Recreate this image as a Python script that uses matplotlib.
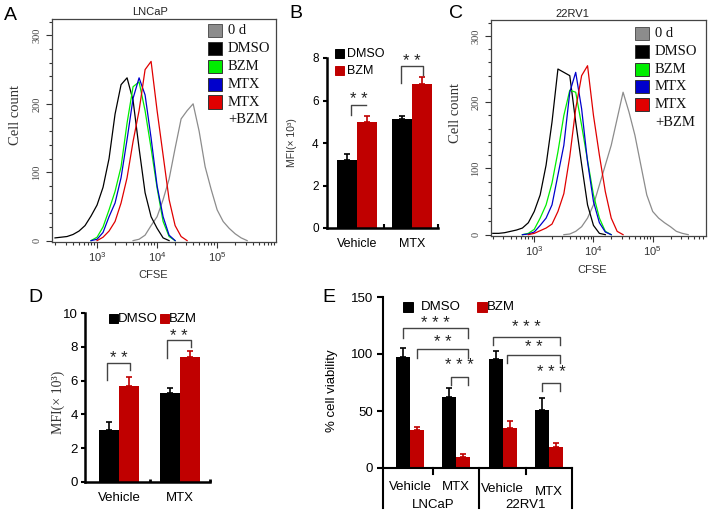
import numpy as np
import matplotlib.pyplot as plt
from matplotlib.patches import Rectangle
from matplotlib.ticker import MultipleLocator, LogLocator, NullFormatter

# ---- data ----
# flow cytometry histograms, counts at log10(CFSE) = 2.3 ... 5.9
log_cfse = np.array([2.3, 2.4, 2.5, 2.6, 2.7, 2.8, 2.9, 3.0, 3.1, 3.2, 3.3, 3.4, 3.5,
                     3.6, 3.7, 3.8, 3.9, 4.0, 4.1, 4.2, 4.3, 4.4, 4.5, 4.6, 4.7, 4.8,
                     4.9, 5.0, 5.1, 5.2, 5.3, 5.4, 5.5, 5.6, 5.7, 5.8, 5.9])

lncap_0d = [0, 0, 0, 0, 0, 0, 0, 0, 0, 0, 0, 0, 0, 0, 2, 8, 22, 35, 60, 90, 135, 178,
            190, 200, 160, 108, 75, 45, 28, 18, 10, 4, 0, 0, 0, 0, 0]
lncap_dmso = [4, 5, 6, 9, 14, 22, 36, 52, 78, 120, 185, 228, 238, 205, 135, 70, 35, 18,
              4, 0, 0, 0, 0, 0, 0, 0, 0, 0, 0, 0, 0, 0, 0, 0, 0, 0, 0]
lncap_bzm = [0, 0, 0, 0, 0, 0, 0, 5, 20, 45, 72, 108, 172, 225, 232, 190, 135, 77, 28,
             6, 0, 0, 0, 0, 0, 0, 0, 0, 0, 0, 0, 0, 0, 0, 0, 0, 0]
lncap_mtx = [0, 0, 0, 0, 0, 0, 0, 2, 12, 35, 55, 92, 148, 208, 238, 213, 150, 80, 35,
             8, 0, 0, 0, 0, 0, 0, 0, 0, 0, 0, 0, 0, 0, 0, 0, 0, 0]
lncap_mtx_bzm = [0, 0, 0, 0, 0, 0, 0, 0, 5, 14, 28, 55, 92, 145, 190, 250, 262, 190,
                 125, 60, 22, 6, 0, 0, 0, 0, 0, 0, 0, 0, 0, 0, 0, 0, 0, 0, 0]

rv1_0d = [0, 0, 0, 0, 0, 0, 0, 0, 0, 0, 0, 0, 0, 1, 5, 12, 25, 45, 75, 105, 135, 175,
          215, 185, 150, 105, 60, 35, 25, 18, 12, 5, 2, 0, 0, 0, 0]
rv1_dmso = [2, 2, 3, 5, 7, 10, 18, 35, 60, 105, 170, 250, 245, 240, 170, 106, 45, 14,
            2, 0, 0, 0, 0, 0, 0, 0, 0, 0, 0, 0, 0, 0, 0, 0, 0, 0, 0]
rv1_bzm = [0, 0, 0, 0, 0, 0, 2, 8, 25, 45, 78, 125, 180, 218, 215, 165, 112, 60, 25,
           5, 0, 0, 0, 0, 0, 0, 0, 0, 0, 0, 0, 0, 0, 0, 0, 0, 0]
rv1_mtx = [0, 0, 0, 0, 0, 0, 1, 4, 14, 25, 45, 90, 135, 215, 245, 190, 110, 50, 18,
           4, 0, 0, 0, 0, 0, 0, 0, 0, 0, 0, 0, 0, 0, 0, 0, 0, 0]
rv1_mtx_bzm = [0, 0, 0, 0, 0, 0, 0, 2, 6, 10, 16, 35, 62, 118, 190, 240, 255, 180,
               120, 65, 25, 5, 0, 0, 0, 0, 0, 0, 0, 0, 0, 0, 0, 0, 0, 0, 0]

hist_labels = ['0 d', 'DMSO', 'BZM', 'MTX', 'MTX', '+BZM']

# MFI bars
mfi_groups = ['Vehicle', 'MTX']
b_dmso = [3.2, 5.15]
b_dmso_err = [0.3, 0.12]
b_bzm = [5.0, 6.8]
b_bzm_err = [0.25, 0.3]

d_dmso = [3.1, 5.25]
d_dmso_err = [0.45, 0.3]
d_bzm = [5.7, 7.4]
d_bzm_err = [0.5, 0.35]

# viability
e_groups = ['Vehicle', 'MTX', 'Vehicle', 'MTX']
e_cells = ['LNCaP', '22RV1']
e_dmso = [97, 62, 96, 51]
e_dmso_err = [8, 8, 7, 10]
e_bzm = [33, 10, 35, 18]
e_bzm_err = [3, 2, 6, 4]

# ---- figure ----
W, H = 709, 514
SANS = ['Liberation Sans', 'DejaVu Sans']
SERIF = ['Liberation Serif', 'DejaVu Serif']
plt.rcParams['font.family'] = SANS

RED = '#c00000'
fig = plt.figure(figsize=(W / 100, H / 100), dpi=100)


def add_ax(l, t, r, b):
    return fig.add_axes([l / W, 1 - b / H, (r - l) / W, (b - t) / H])


def ftext(x, y, s, **kw):
    fig.text(x / W, 1 - y / H, s, **kw)


def fsquare(x, y, w, h, color, edge):
    fig.add_artist(Rectangle((x / W, 1 - (y + h) / H), w / W, h / H, facecolor=color,
                             edgecolor=edge, lw=0.7, transform=fig.transFigure))


def flow_panel(ax, curves, colors, title, title_x, xlo, xhi, leg_x, leg_y):
    for counts, col in zip(curves, colors):
        c = np.array(counts)
        nz = np.nonzero(c)[0]
        i0, i1 = max(nz[0] - 1, 0), min(nz[-1] + 2, len(c))
        ax.plot(10 ** log_cfse[i0:i1], c[i0:i1], color=col, lw=0.9)
    ax.set_xscale('log')
    ax.set_xlim(10 ** xlo, 10 ** xhi)
    ax.set_ylim(-2, 324)
    ax.xaxis.set_major_locator(LogLocator(base=10))
    ax.xaxis.set_minor_locator(LogLocator(base=10, subs=np.arange(2, 10)))
    ax.xaxis.set_minor_formatter(NullFormatter())
    ax.set_yticks([0, 100, 200, 300])
    ax.set_yticklabels(['0', '100', '200', '300'], rotation=90, va='center',
                       family=SERIF, fontsize=7.5, color='#444')
    ax.yaxis.set_minor_locator(MultipleLocator(20))
    ax.tick_params(which='both', direction='out', color='#333', width=0.8)
    ax.tick_params(which='major', length=4)
    ax.tick_params(which='minor', length=2.5)
    ax.tick_params(axis='x', labelsize=8, labelcolor='#333', pad=2)
    for sp in ax.spines.values():
        sp.set_color('#444')
        sp.set_linewidth(0.9)
    ax.set_ylabel('Cell count', family=SERIF, fontsize=10.5, color='#333')
    ax.yaxis.set_label_coords(-0.135, 0.57)
    ax.set_xlabel('CFSE', fontsize=8, color='#333')
    ax.text(title_x, 1.03, title, transform=ax.transAxes, ha='center', va='center',
            fontsize=8, color='#222')
    edges = ['#555', '#333', '#333', '#333', '#333']
    for i, lab in enumerate(hist_labels):
        ty = leg_y + 17.8 * i
        if i < 5:
            fsquare(leg_x, ty, 14, 13, colors[i], edges[i])
        ftext(leg_x + 20, ty + 6.5, lab, family=SERIF, fontsize=10.5, va='center', color='#111')


def bracket(ax, x0, x1, ytop, yl, yr, stars, sy, fs):
    ax.plot([x0, x0, x1, x1], [yl, ytop, ytop, yr], color='#444', lw=1, clip_on=False)
    ax.text((x0 + x1) / 2, sy, stars, ha='center', va='center', fontsize=fs, color='#222')


def bar_panel(ax, dmso, dmso_err, bzm, bzm_err, w):
    x = np.arange(len(dmso))
    ax.bar(x - w / 2, dmso, w, color='black')
    ax.bar(x + w / 2, bzm, w, color=RED)
    ax.errorbar(x - w / 2, dmso, yerr=[np.zeros(len(dmso)), dmso_err], fmt='none',
                ecolor='black', elinewidth=1.2, capsize=2.5, capthick=1.2)
    ax.errorbar(x + w / 2, bzm, yerr=[np.zeros(len(bzm)), bzm_err], fmt='none',
                ecolor=RED, elinewidth=1.2, capsize=2.5, capthick=1.2)
    for s in ['top', 'right']:
        ax.spines[s].set_visible(False)
    for s in ['left', 'bottom']:
        ax.spines[s].set_linewidth(1.8)
    return x


# ---- A: LNCaP flow ----
colors = ['#8c8c8c', 'black', '#00ee00', '#0000cc', '#e00000']
axA = add_ax(52, 19, 276, 242)
flow_panel(axA, [lncap_0d, lncap_dmso, lncap_bzm, lncap_mtx, lncap_mtx_bzm], colors,
           'LNCaP', 0.44, 2.25, 5.98, 208, 24.3)
axA.xaxis.set_label_coords(0.45, -0.125)

# ---- C: 22RV1 flow ----
axC = add_ax(491, 20, 706, 236)
flow_panel(axC, [rv1_0d, rv1_dmso, rv1_bzm, rv1_mtx, rv1_mtx_bzm], colors,
           '22RV1', 0.38, 2.27, 5.9, 635, 27)
axC.xaxis.set_label_coords(0.47, -0.134)

# ---- B: MFI LNCaP ----
axB = add_ax(327, 58, 438, 228)
x = bar_panel(axB, b_dmso, b_dmso_err, b_bzm, b_bzm_err, 0.355)
axB.set_xlim(-0.545, 1.473)
axB.set_ylim(0, 8)
axB.set_yticks([0, 2, 4, 6, 8])
axB.set_xticks(x)
axB.set_xticklabels(mfi_groups)
axB.set_xticks([0.5, 1.473], minor=True)
axB.tick_params(axis='y', direction='out', length=3, width=1.5, labelsize=8.5, pad=3)
axB.tick_params(axis='x', which='major', length=0, labelsize=9, pad=7)
axB.tick_params(axis='x', which='minor', direction='in', length=3, width=1.5)
axB.set_ylabel('MFI(× 10³)', fontsize=7.5, color='#333')
axB.yaxis.set_label_coords(-0.27, 0.5)
bracket(axB, -0.11, 0.164, 5.79, 5.32, 5.79, '* *', 6.05, 12)
bracket(axB, 0.8, 1.2, 7.62, 6.82, 7.2, '* *', 7.82, 12)
fsquare(335, 49, 9, 9, 'black', 'black')
ftext(347, 54, 'DMSO', fontsize=9, va='center')
fsquare(335, 66, 9, 9, RED, RED)
ftext(347, 71, 'BZM', fontsize=9, va='center')

# ---- D: MFI 22RV1 ----
axD = add_ax(85, 313, 210, 482)
x = bar_panel(axD, d_dmso, d_dmso_err, d_bzm, d_bzm_err, 0.33)
axD.set_xlim(-0.557, 1.49)
axD.set_ylim(0, 10)
axD.set_yticks([0, 2, 4, 6, 8, 10])
axD.set_xticks(x)
axD.set_xticklabels(mfi_groups)
axD.set_xticks([0.5, 1.49], minor=True)
axD.tick_params(axis='y', direction='out', length=3, width=1.5, labelsize=9.5, pad=2)
axD.tick_params(axis='x', which='major', length=0, labelsize=9.5, pad=7)
axD.tick_params(axis='x', which='minor', direction='in', length=2, width=2)
axD.set_ylabel('MFI(× 10³)', family=SERIF, fontsize=10, color='#333')
axD.yaxis.set_label_coords(-0.16, 0.47)
bracket(axD, -0.2, 0.18, 7.04, 6.04, 6.6, '* *', 7.3, 12)
bracket(axD, 0.79, 1.18, 8.4, 7.34, 8.0, '* *', 8.62, 12)
fsquare(109, 314, 9, 9, 'black', 'black')
ftext(118, 319, 'DMSO', fontsize=9.5, va='center')
fsquare(160, 314, 9, 9, RED, RED)
ftext(169, 319, 'BZM', fontsize=9.5, va='center')

# ---- E: viability ----
axE = add_ax(383, 297, 572, 468)
x = bar_panel(axE, e_dmso, e_dmso_err, e_bzm, e_bzm_err, 0.3)
axE.set_xlim(-0.583, 3.497)
axE.set_ylim(0, 150)
axE.set_yticks([0, 50, 100, 150])
axE.set_xticks([])
axE.tick_params(axis='y', direction='out', length=4, width=1.5, labelsize=9.5, pad=3)
axE.spines['left'].set_linewidth(1.5)
axE.spines['bottom'].set_linewidth(1.5)
axE.set_ylabel('% cell viability', fontsize=9.5)
axE.yaxis.set_label_coords(-0.24, 0.45)
tr = axE.get_xaxis_transform()
for xs in [-0.583, 1.5, 3.497]:
    axE.plot([xs, xs], [0, -0.234], color='black', lw=1.5, transform=tr, clip_on=False)
for xs in [0.5, 2.5]:
    axE.plot([xs, xs], [0, -0.035], color='black', lw=1.5, transform=tr, clip_on=False)
for xi, lab, yo in zip(x, e_groups, [-0.11, -0.11, -0.125, -0.14]):
    axE.text(xi, yo, lab, transform=tr, ha='center', va='center', fontsize=9.5)
for xi, lab in zip([0.5, 2.5], e_cells):
    axE.text(xi, -0.215, lab, transform=tr, ha='center', va='center', fontsize=9.5)
bracket(axE, -0.15, 1.25, 122.8, 114, 114, '* * *', 127, 12)
bracket(axE, 0.15, 1.25, 104.4, 96.5, 96.5, '* *', 110, 12)
bracket(axE, 0.885, 1.25, 80, 73, 73, '* * *', 89.5, 12)
bracket(axE, 1.79, 3.24, 115, 108, 108, '* * *', 123, 12)
bracket(axE, 2.1, 3.24, 99, 92, 92, '* *', 106, 12)
bracket(axE, 2.85, 3.24, 74.6, 67.5, 67.5, '* * *', 84, 12)
fsquare(403, 302, 10, 10, 'black', 'black')
ftext(421, 307, 'DMSO', fontsize=9.5, va='center')
fsquare(477, 302, 10, 10, RED, RED)
ftext(487, 307, 'BZM', fontsize=9.5, va='center')

# panel letters
for lab, px, py in [('A', 10, 15), ('B', 296, 13), ('C', 456, 13), ('D', 35, 298), ('E', 329, 298)]:
    ftext(px, py, lab, fontsize=14, ha='center', va='center')

fig.savefig('out.png', dpi=100)
